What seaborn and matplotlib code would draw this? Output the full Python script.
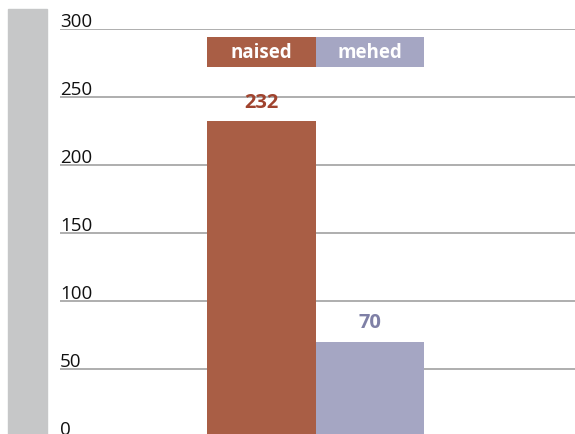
import matplotlib
matplotlib.use("Agg")
import matplotlib.pyplot as plt
import matplotlib.transforms as mtransforms
from matplotlib.patches import Rectangle
import seaborn as sns
import pandas as pd

# data
categories = ["naised", "mehed"]
values = [232, 70]
colors = ["#A95E45", "#A5A6C3"]
label_colors = ["#A0432E", "#7F80A6"]
yticks = [0, 50, 100, 150, 200, 250, 300]

sns.set_style("white")
plt.rcParams["font.family"] = ["Open Sans", "DejaVu Sans"]

df = pd.DataFrame({"group": categories, "count": values})

fig = plt.figure(figsize=(5.75, 4.35), dpi=100)
W, H = 575, 435
# axes: x 60..575 px, y 30..438 px (0 sits just below the image edge)
ax = fig.add_axes([60 / W, (H - 438) / H, (575 - 60) / W, 408 / H])

# grey band on the left
fig.patches.append(Rectangle((8 / W, 0), 39 / W, (H - 10) / H,
                             transform=fig.transFigure, color="#C6C7C8", zorder=0))

sns.barplot(data=df, x="group", y="count", hue="group", palette=colors,
            width=1.0, legend=False, ax=ax, zorder=3, saturation=1,
            linewidth=0, edgecolor="none")

ax.set_ylim(0, 300)
ax.set_xlim(-1.857, 2.89)
ax.set_xlabel("")
ax.set_ylabel("")
ax.set_xticks([])
ax.set_yticks(yticks)
ax.set_yticklabels([])
ax.tick_params(left=False, bottom=False)
ax.grid(axis="y", color="#A8A8A8", linewidth=1.3, zorder=0)
for s in ax.spines.values():
    s.set_visible(False)

# y labels above the gridlines
ytrans = mtransforms.blended_transform_factory(ax.transAxes, ax.transData)
for t in yticks:
    ax.annotate(str(t), xy=(0, t), xycoords=ytrans, xytext=(0, 2),
                textcoords="offset points", ha="left", va="baseline",
                fontsize=13.5, color="#111111", annotation_clip=False)

# value labels
for i, (v, c) in enumerate(zip(values, label_colors)):
    ax.annotate(str(v), xy=(i, v), xytext=(0, 7), textcoords="offset points",
                ha="center", va="bottom", fontsize=14.5, fontweight="bold", color=c)

# legend boxes on top
xtrans = mtransforms.blended_transform_factory(ax.transData, ax.transAxes)
for i, (name, c) in enumerate(zip(categories, colors)):
    ax.add_patch(Rectangle((i - 0.5, 0.907), 1.0, 0.073, transform=xtrans,
                           color=c, clip_on=False, zorder=4, linewidth=0))
    ax.text(i, 0.9435, name, transform=xtrans, ha="center", va="center",
            fontsize=13.5, fontweight="bold", color="white", zorder=5)

fig.savefig("out.png", dpi=100)
